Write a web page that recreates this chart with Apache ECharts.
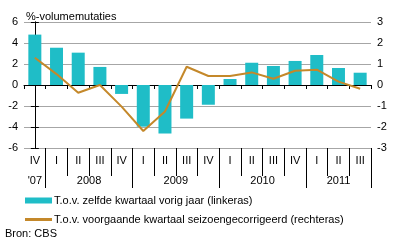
<!DOCTYPE html>
<html><head><meta charset="utf-8">
<script src="https://cdn.jsdelivr.net/npm/echarts@6/dist/echarts.min.js"></script>
<style>html,body{margin:0;padding:0;background:#fff}#c{width:396px;height:245px}</style>
</head><body><div id="c"></div>
<script>
var quarters = ['IV','I','II','III','IV','I','II','III','IV','I','II','III','IV','I','II','III'];
var years = ["'07", '2008', '2009', '2010', '2011'];
var yearCenters = [0, 2.5, 6.5, 10.5, 14];
var yearBounds = [0.5, 4.5, 8.5, 12.5, 15.5];
var yoy = [4.8, 3.55, 3.08, 1.72, -0.85, -3.97, -4.62, -3.2, -1.88, 0.57, 2.12, 1.81, 2.29, 2.86, 1.62, 1.17];
var qoq = [1.3, 0.52, -0.37, 0.0, -1.03, -2.19, -1.26, 0.87, 0.43, 0.43, 0.6, 0.3, 0.68, 0.73, 0.16, -0.18];
var leftTicks = [-6, 6, 2];
var rightTicks = [-3, 3, 1];
var nameBar = 'T.o.v. zelfde kwartaal vorig jaar (linkeras)';
var nameLine = 'T.o.v. voorgaande kwartaal seizoengecorrigeerd (rechteras)';

var font = 'Liberation Sans, Arial, sans-serif';
var qBounds = [];
for (var i = 0; i < quarters.length - 1; i++) qBounds.push(i + 0.5);
var qCenters = quarters.map(function (q, i) { return i; });

var chart = echarts.init(document.getElementById('c'), null, {renderer: 'canvas'});
chart.setOption({
  animation: false,
  textStyle: {fontFamily: font},
  title: {text: '%-volumemutaties', left: 21, top: 6, textStyle: {fontSize: 11, fontWeight: 'normal', color: '#000', fontFamily: font}},
  grid: {left: 24, right: 25, top: 22, bottom: 97, containLabel: false},
  legend: [{
    data: [{name: nameBar, icon: 'rect'}], left: 25, top: 195, orient: 'vertical',
    itemWidth: 27, itemHeight: 6, itemGap: 2, padding: 0,
    textStyle: {fontSize: 11, color: '#000', fontFamily: font, padding: [0, 0, 0, -3]}
  }, {
    data: [{name: nameLine, icon: 'rect'}], left: 25, top: 214, orient: 'vertical',
    itemWidth: 27, itemHeight: 3, itemGap: 2, padding: 0,
    textStyle: {fontSize: 11, color: '#000', fontFamily: font, padding: [0, 0, 0, -3]}
  }],
  graphic: [{type: 'text', left: 5, top: 228, style: {text: 'Bron: CBS', font: '11px ' + font, fill: '#000'}}],
  xAxis: [{
    type: 'category', data: quarters,
    axisLine: {onZero: true, lineStyle: {color: '#000', width: 1}},
    axisTick: {show: true, alignWithLabel: false, interval: 0, length: 4, lineStyle: {color: '#000'}},
    axisLabel: {show: false}, splitLine: {show: false}
  }, {
    type: 'value', min: -0.5, max: 15.5, position: 'bottom',
    axisLine: {show: false, onZero: false},
    axisTick: {show: true, customValues: qBounds, length: 28, lineStyle: {color: '#000'}},
    axisLabel: {show: true, customValues: qCenters, margin: 7, fontSize: 11, color: '#000', fontFamily: font,
      formatter: function (v) { return quarters[Math.round(v)]; }},
    splitLine: {show: false}
  }, {
    type: 'value', min: -0.5, max: 15.5, position: 'bottom',
    axisLine: {show: false, onZero: false},
    axisTick: {show: true, customValues: yearBounds, length: 40, lineStyle: {color: '#000'}},
    axisLabel: {show: true, customValues: yearCenters, margin: 27, fontSize: 11, color: '#000', fontFamily: font,
      formatter: function (v) { return years[yearCenters.indexOf(v)]; }},
    splitLine: {show: false}
  }],
  yAxis: [{
    type: 'value', min: leftTicks[0], max: leftTicks[1], interval: leftTicks[2], position: 'left',
    axisLine: {show: true, lineStyle: {color: '#000'}},
    axisTick: {show: true, length: 4, lineStyle: {color: '#000'}},
    axisLabel: {fontSize: 11, color: '#000', margin: 6, fontFamily: font},
    splitLine: {show: true, lineStyle: {color: '#a6a6a6', width: 1}}
  }, {
    type: 'value', min: rightTicks[0], max: rightTicks[1], interval: rightTicks[2], position: 'right',
    axisLine: {show: true, lineStyle: {color: '#000'}},
    axisTick: {show: true, length: 4, lineStyle: {color: '#000'}},
    axisLabel: {fontSize: 11, color: '#000', margin: 6, fontFamily: font},
    splitLine: {show: false}
  }],
  series: [{
    name: nameBar, type: 'bar', xAxisIndex: 0, yAxisIndex: 0, data: yoy,
    barWidth: 13, itemStyle: {color: '#1fbdc7'}
  }, {
    name: nameLine, type: 'line', xAxisIndex: 0, yAxisIndex: 1, data: qoq,
    showSymbol: false, symbol: 'none', lineStyle: {color: '#c4882a', width: 2}, itemStyle: {color: '#c4882a'}
  }]
});
</script></body></html>
